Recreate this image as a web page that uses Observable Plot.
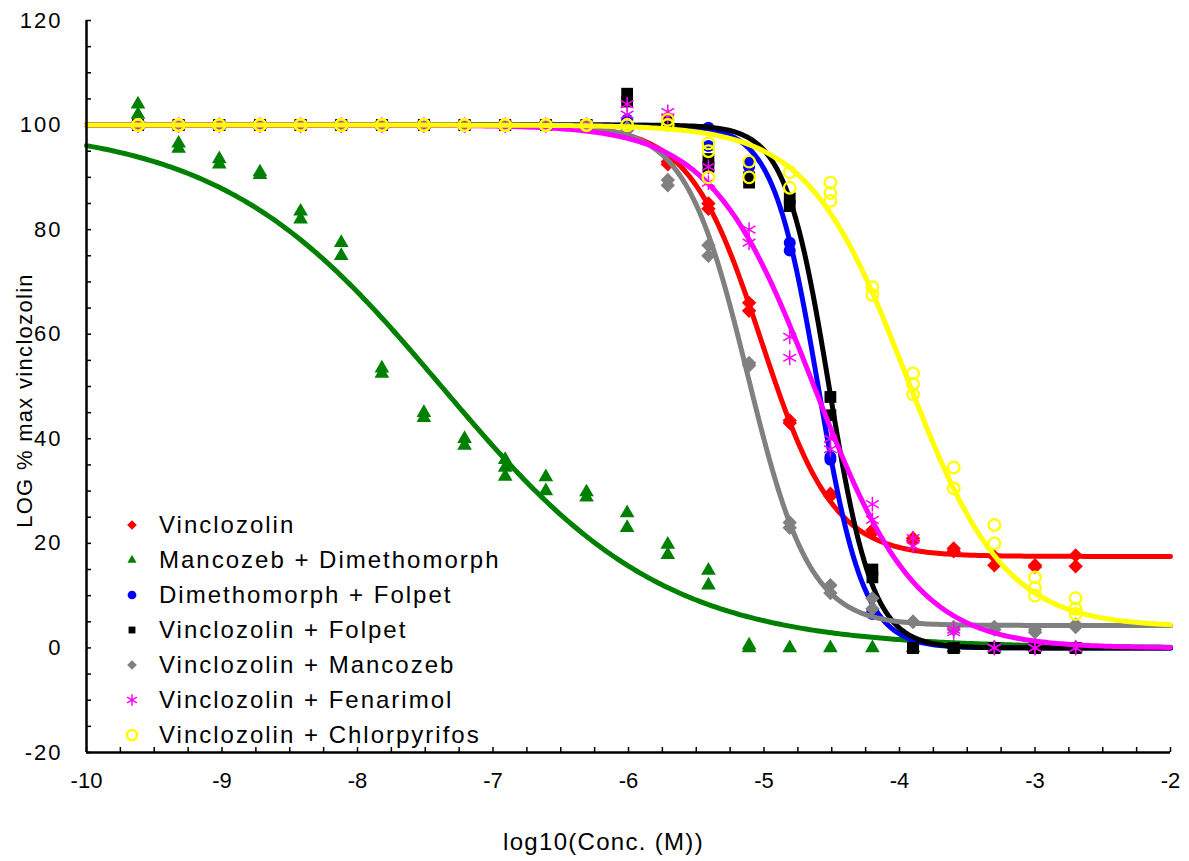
<!DOCTYPE html>
<html><head><meta charset="utf-8">
<script src="https://cdn.jsdelivr.net/npm/d3@7"></script>
<script src="https://cdn.jsdelivr.net/npm/@observablehq/plot@0.6"></script>
<style>
body{margin:0;background:#fff;}
#wrap{position:relative;width:1189px;height:861px;font-family:"Liberation Sans",Arial,sans-serif;}
#legend{position:absolute;left:120px;top:507px;}
.row{height:35px;display:flex;align-items:center;font-size:24px;letter-spacing:2px;color:#000;white-space:nowrap;}
.row svg{width:24px;height:24px;margin-right:15px;flex:none;}
#wrap g[aria-label="y-axis tick label"] text{letter-spacing:2px;}
#wrap g[aria-label="text"] text{letter-spacing:1.3px;}
</style></head><body><div id="wrap"><div id="legend"></div></div>
<script>
// log10 concentrations (M)
const conc = [-9.62,-9.32,-9.02,-8.72,-8.42,-8.12,-7.82,-7.51,-7.21,-6.91,-6.61,-6.31,-6.01,-5.71,-5.41,-5.11,-4.81,-4.51,-4.2,-3.9,-3.6,-3.3,-3.0,-2.7];

const seriesNames = ["Vinclozolin","Mancozeb + Dimethomorph","Dimethomorph + Folpet","Vinclozolin + Folpet","Vinclozolin + Mancozeb","Vinclozolin + Fenarimol","Vinclozolin + Chlorpyrifos"];
const seriesColors = ["#ff0000","#008000","#0000ff","#000000","#808080","#ff00ff","#ffff00"];
const seriesSymbols = ["diamond2","triangle2","circle","square2","diamond2","asterisk","circle"];

// replicate responses per concentration (% max vinclozolin)
const vinclozolin = [[100,100],[100,100],[100,100],[100,100],[100,100],[100,100],[100,100],[100,100],[100,100],[100,100],[100,100],[100,100],[100,100],[93,92.5],[85,84],[66,64.5],[43.5,43],[29.5,29],[22.5,22],[21,20.5],[19,18.5],[17.5,15.8],[15.8,15.5],[17.7,15.6]];
const mancozebDimethomorph = [[104,102,101],[96.5,95.5],[93.5,92.5],[91,90.5],[83.5,82],[77.5,75],[53.5,52.5],[45,44],[40,38.7],[36,34.5,32.8],[32.7,30],[29.8,28.8],[25.8,23],[19.8,17.8],[14.8,12],[0.5,0],[0],[0],[0],[0],[0],[0],[0],[0]];
const dimethomorphFolpet = [[100,100],[100,100],[100,100],[100,100],[100,100],[100,100],[100,100],[100,100],[100,100],[100,100],[100,100],[100,100],[101,100],[100,100],[99.5,96],[93,92],[77.5,76],[36.5,36],[7,6.5],[0.5,0],[0,0],[0,0],[0,0],[0,0]];
const vinclozolinFolpet = [[100,100],[100,100],[100,100],[100,100],[100,100],[100,100],[100,100],[100,100],[100,100],[100,100],[100,100],[100,100],[106,104.5],[101,100],[93.5,92],[90,89],[86,84.5],[48,44.5],[15,13.5],[0,0],[0,0],[0,0],[0,0],[0,0]];
const vinclozolinMancozeb = [[100,100],[100,100],[100,100],[100,100],[100,100],[100,100],[100,100],[100,100],[100,100],[100,100],[100,100],[100,100],[99.5,99],[89.5,88.5],[77,75],[54.5,54],[24,23],[12,10.5],[9.5,7.5],[5,5],[4,3.5],[4,3.5],[3.5,3],[4.5,4]];
const vinclozolinFenarimol = [[100,100],[100,100],[100,100],[100,100],[100,100],[100,100],[100,100],[100,100],[100,100],[100,100],[100,100],[100,100],[104,102],[102.5,101.5],[92,89],[80,77.5],[59.5,55.5],[40,38],[27.5,24.5],[21,19.5],[3.5,3],[0,0],[0,0],[0,0]];
const vinclozolinChlorpyrifos = [[100,100],[100,100],[100,100],[100,100],[100,100],[100,100],[100,100],[100,100],[100,100],[100,100],[100,100],[100,100],[100,100],[101,100],[96.5,95,90],[93,90],[91,88],[89,87,85.5],[69,67.5],[52.5,50.5,48.5],[34.5,30.5],[23.5,20],[13.5,11.5,10],[9.5,7.5,6.5]];

// four-parameter logistic fit parameters
const fitTop = [100,100,100,100,100,100,100];
const fitBottom = [17.5,0,0,0,4.3,0,4];
const fitLogEC50 = [-5.02,-7.38,-4.60,-4.52,-5.12,-4.63,-3.95];
const fitHill = [1.64,0.53,2.6,2.7,1.9,1.15,1.2];

const yTicks = [-20,0,20,40,60,80,100,120];
const xTicks = [-10,-9,-8,-7,-6,-5,-4,-3,-2];
const yMinor = d3.range(-20,120.01,5);
const xMinor = d3.range(-10,-1.99,0.25);

const seriesData = [vinclozolin,mancozebDimethomorph,dimethomorphFolpet,vinclozolinFolpet,vinclozolinMancozeb,vinclozolinFenarimol,vinclozolinChlorpyrifos];
const curveX = d3.range(0,401).map(i => -10 + i*0.02);

const seriesMarks = [];
seriesData.forEach((reps, s) => {
  const pts = [];
  reps.forEach((vals, i) => vals.forEach(v => pts.push({x: conc[i], y: v})));
  const curve = curveX.map(x => ({x, y: fitBottom[s] + (fitTop[s]-fitBottom[s]) / (1 + Math.pow(10, (x - fitLogEC50[s]) * fitHill[s]))}));
  seriesMarks.push(Plot.line(curve, {x:"x", y:"y", stroke: seriesColors[s], strokeWidth: 5}));
  const sym = seriesSymbols[s];
  if (s === 6) {
    seriesMarks.push(Plot.dot(pts, {x:"x", y:"y", symbol:"circle", r:5.8, stroke: seriesColors[s], strokeWidth:2.3, fill:"none"}));
  } else if (sym === "asterisk") {
    seriesMarks.push(Plot.dot(pts, {x:"x", y:"y", symbol:"asterisk", r:7, stroke: seriesColors[s], strokeWidth:1.5}));
  } else {
    const r = sym === "square2" ? 7.5 : sym === "circle" ? 6 : sym === "triangle2" ? 7 : 6.5;
    seriesMarks.push(Plot.dot(pts, {x:"x", y:"y", symbol: sym, r, fill: seriesColors[s], stroke: "none"}));
  }
});

const chart = Plot.plot({
  width: 1189, height: 861,
  marginLeft: 86, marginRight: 19, marginTop: 20, marginBottom: 109,
  style: {fontFamily: '"Liberation Sans", Arial, sans-serif', color: "#000", background: "#fff"},
  x: {domain: [-10,-2]},
  y: {domain: [-20,120]},
  marks: [
    Plot.axisY(yTicks, {tickSize: 0, tickPadding: 24, fontSize: 22, label: null, tickFormat: d => d}),
    Plot.axisX(xTicks, {tickSize: 0, tickPadding: 20, fontSize: 22, label: null, tickFormat: d => d}),
    Plot.axisY(yMinor, {tickSize: 5, dx: 5, strokeWidth: 1.5, tickFormat: () => "", label: null}),
    Plot.axisX(xMinor, {tickSize: 5, dy: -5, strokeWidth: 1.5, tickFormat: () => "", label: null}),
    ...seriesMarks,
    Plot.ruleX([-10], {stroke: "#000", strokeWidth: 2.5}),
    Plot.ruleY([-20], {stroke: "#000", strokeWidth: 2.5}),
    Plot.text(["LOG % max vinclozolin"], {frameAnchor: "left", dx: -62, dy: 14, rotate: -90, textAnchor: "middle", fontSize: 22, text: d => d, fill: "#000"}),
    Plot.text(["log10(Conc. (M))"], {frameAnchor: "bottom", dx: -25, dy: 97, fontSize: 24, text: d => d, fill: "#000"})
  ]
});
document.getElementById("wrap").prepend(chart);

// legend
const legendSymbols = [d3.symbolDiamond2, d3.symbolTriangle2, d3.symbolCircle, d3.symbolSquare2, d3.symbolDiamond2, d3.symbolAsterisk, d3.symbolCircle];
const legend = document.getElementById("legend");
seriesNames.forEach((name, i) => {
  const row = document.createElement("div");
  row.className = "row";
  const svg = d3.create("svg").attr("viewBox", "-12 -12 24 24");
  const p = svg.append("path").attr("d", d3.symbol(legendSymbols[i], i === 6 ? 80 : i === 5 ? 90 : 60)());
  if (i === 6) p.attr("fill", "none").attr("stroke", seriesColors[i]).attr("stroke-width", 2.5);
  else if (i === 5) p.attr("fill", "none").attr("stroke", seriesColors[i]).attr("stroke-width", 1.5);
  else p.attr("fill", seriesColors[i]);
  row.appendChild(svg.node());
  const span = document.createElement("span");
  span.textContent = name;
  row.appendChild(span);
  legend.appendChild(row);
});
</script></body></html>
